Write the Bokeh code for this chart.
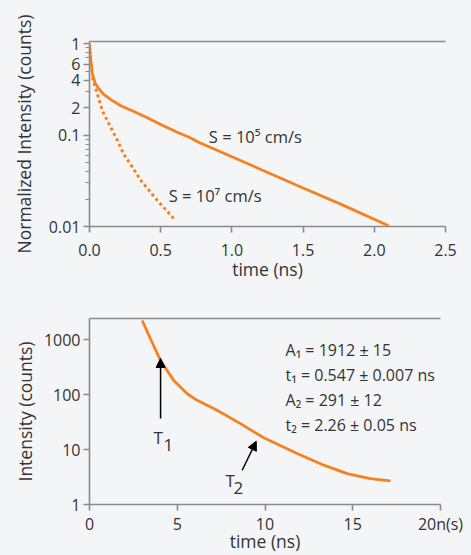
from bokeh.plotting import figure
from bokeh.models import Range1d, FixedTicker, LinearAxis, Arrow, NormalHead, Label
from bokeh.layouts import column
from bokeh.embed import file_html
from bokeh.resources import INLINE

BG = "#f4f5f7"
ORANGE = "#f5821f"
AXIS = "#8a8a8a"
TEXT = "#333333"
FONT = "Open Sans"

# ---- top panel data: normalized decays ----
t_slow = [0.0, 0.005, 0.01, 0.02, 0.04, 0.06, 0.1, 0.15, 0.22, 0.3, 0.41, 0.5, 0.62, 0.7, 0.77, 1.0, 1.5, 1.76, 2.1]
i_slow = [1.0, 0.8, 0.66, 0.47, 0.37, 0.33, 0.28, 0.245, 0.21, 0.185, 0.154, 0.131, 0.107, 0.095, 0.083, 0.058, 0.0264, 0.0177, 0.0102]
t_fast = [0.02, 0.05, 0.09, 0.14, 0.2, 0.24, 0.3, 0.36, 0.42, 0.48, 0.54, 0.6]
i_fast = [0.43, 0.3, 0.185, 0.13, 0.085, 0.062, 0.045, 0.032, 0.0246, 0.019, 0.015, 0.0118]
top_x_ticks = [0.0, 0.5, 1.0, 1.5, 2.0, 2.5]
top_x_labels = ["0.0", "0.5", "1.0", "1.5", "2.0", "2.5"]
top_y_major = [0.01, 0.1, 0.2, 0.4, 0.6, 1.0]
top_y_labels = ["0.01", "0.1", "2", "4", "6", "1"]
top_y_minor = [0.02, 0.03, 0.04, 0.05, 0.06, 0.07, 0.08, 0.09, 0.3, 0.5, 0.7, 0.8, 0.9]
label_slow = "S = 10\u2075 cm/s"
label_fast = "S = 10\u2077 cm/s"

# ---- bottom panel data: decay with biexponential fit ----
t_decay = [3.0, 3.5, 4.04, 4.8, 5.57, 6.13, 7.27, 8.6, 9.93, 11.83, 13.35, 14.68, 16.0, 17.15]
counts = [2245, 1000, 421, 182, 104, 79, 52, 29.7, 16.4, 8.5, 5.2, 3.66, 2.97, 2.69]
bot_x_ticks = [0, 5, 10, 15, 20]
bot_x_labels = ["0", "5", "10", "15", "20n(s)"]
bot_y_ticks = [1, 10, 100, 1000]
bot_y_labels = ["1", "10", "100", "1000"]
fit_lines = ["A\u2081 = 1912 \u00b1 15", "t\u2081 = 0.547 \u00b1 0.007 ns",
             "A\u2082 = 291 \u00b1 12", "t\u2082 = 2.26 \u00b1 0.05 ns"]


def style_axis(ax, label_standoff, tick_standoff=3):
    ax.axis_line_color = AXIS
    ax.axis_line_width = 1.6
    ax.major_tick_line_color = AXIS
    ax.major_tick_line_width = 1.6
    ax.major_tick_out = 6
    ax.major_tick_in = 0
    ax.minor_tick_line_color = AXIS
    ax.minor_tick_line_width = 1
    ax.minor_tick_out = 4
    ax.minor_tick_in = 0
    ax.major_label_text_font = FONT
    ax.major_label_text_font_size = "16px"
    ax.major_label_text_color = TEXT
    ax.major_label_standoff = tick_standoff
    ax.axis_label_text_font = FONT
    ax.axis_label_text_font_size = "17.5px"
    ax.axis_label_text_font_style = "normal"
    ax.axis_label_text_color = TEXT
    ax.axis_label_standoff = label_standoff


def top_line(p):
    ax = LinearAxis(ticker=FixedTicker(ticks=[]), axis_line_color=AXIS, axis_line_width=1.6,
                    major_tick_line_color=None, minor_tick_line_color=None,
                    major_label_text_font_size="0px")
    p.add_layout(ax, "above")


# ---------------- top figure ----------------
p1 = figure(frame_width=356, height=288, x_range=Range1d(0, 2.5), y_range=Range1d(0.01, 1.06),
            y_axis_type="log", output_backend="svg", toolbar_location=None,
            min_border_left=89, min_border_right=26, min_border_top=41, min_border_bottom=62,
            background_fill_color=BG, border_fill_color=BG, outline_line_color=None)
p1.grid.visible = False
p1.line(t_slow, i_slow, line_color=ORANGE, line_width=2.8)
p1.line(t_fast, i_fast, line_color=ORANGE, line_width=3, line_dash="3 3")
p1.xaxis.ticker = FixedTicker(ticks=top_x_ticks)
p1.xaxis.major_label_overrides = dict(zip(top_x_ticks, top_x_labels))
p1.yaxis.ticker = FixedTicker(ticks=top_y_major, minor_ticks=top_y_minor)
p1.yaxis.major_label_overrides = dict(zip(top_y_major, top_y_labels))
p1.xaxis.axis_label = "time (ns)"
p1.yaxis.axis_label = "Normalized Intensity (counts)"
style_axis(p1.xaxis[0], -2, 11)
style_axis(p1.yaxis[0], 10)
p1.xaxis.minor_tick_line_color = None
top_line(p1)
p1.add_layout(Label(x=0.838, y=0.0963, text=label_slow, text_font=FONT, text_font_size="16.5px",
                    text_color=TEXT, text_baseline="alphabetic"))
p1.add_layout(Label(x=0.556, y=0.0218, text=label_fast, text_font=FONT, text_font_size="16.5px",
                    text_color=TEXT, text_baseline="alphabetic"))

# ---------------- bottom figure ----------------
p2 = figure(frame_width=351, height=267, x_range=Range1d(0, 20), y_range=Range1d(1, 2440),
            y_axis_type="log", output_backend="svg", toolbar_location=None,
            min_border_left=89, min_border_right=31, min_border_top=30, min_border_bottom=51,
            background_fill_color=BG, border_fill_color=BG, outline_line_color=None)
p2.grid.visible = False
p2.line(t_decay, counts, line_color=ORANGE, line_width=2.8)
p2.xaxis.ticker = FixedTicker(ticks=bot_x_ticks)
p2.xaxis.major_label_overrides = dict(zip(bot_x_ticks, bot_x_labels))
p2.yaxis.ticker = FixedTicker(ticks=bot_y_ticks)
p2.yaxis.major_label_overrides = dict(zip(bot_y_ticks, bot_y_labels))
p2.xaxis.axis_label = "time (ns)"
p2.yaxis.axis_label = "Intensity (counts)"
style_axis(p2.xaxis[0], -9, 2)
style_axis(p2.yaxis[0], 4)
p2.xaxis.minor_tick_line_color = None
p2.yaxis.minor_tick_line_color = None
top_line(p2)

p2.add_layout(Arrow(end=NormalHead(size=9, fill_color="black", line_color="black"),
                    x_start=4.05, y_start=37, x_end=4.05, y_end=457,
                    line_color="black", line_width=1.5))
p2.add_layout(Arrow(end=NormalHead(size=9, fill_color="black", line_color="black"),
                    x_start=8.7, y_start=4.2, x_end=9.5, y_end=14.2,
                    line_color="black", line_width=1.5))
for x, y, s in [(3.65, 16.7, "T"), (4.22, 12.0, "1"), (7.75, 2.77, "T"), (8.2, 1.98, "2")]:
    p2.add_layout(Label(x=x, y=y, text=s, text_font=FONT, text_font_size="17px",
                        text_color=TEXT, text_baseline="alphabetic"))
for y, s in zip([638, 224, 78.8, 27.7], fit_lines):
    p2.add_layout(Label(x=11.17, y=y, text=s, text_font=FONT, text_font_size="16px",
                        text_color=TEXT, text_baseline="alphabetic"))

layout = column(p1, p2, spacing=0, styles={"background-color": BG})
html = file_html(layout, INLINE)
html = html.replace("<body>", '<body style="background-color: %s;">' % BG, 1)
open("out.html", "w").write(html)
